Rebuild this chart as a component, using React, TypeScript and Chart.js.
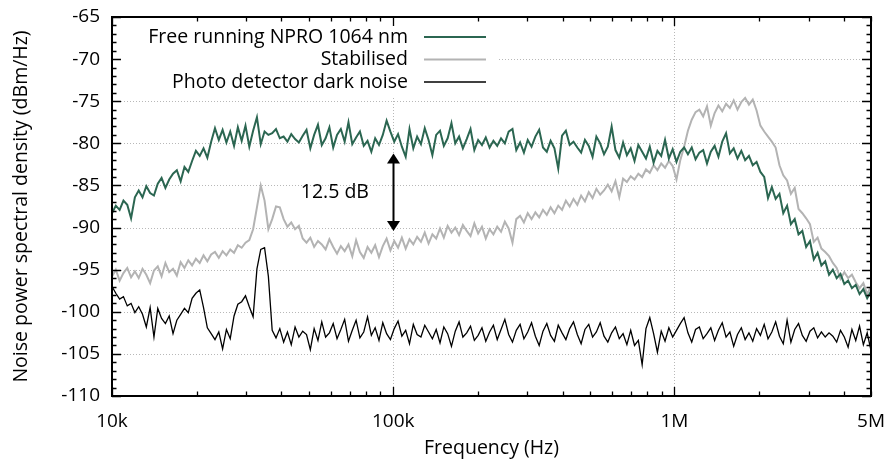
import React, { useEffect, useRef } from "react";
import { Chart, registerables } from "chart.js";
Chart.register(...registerables);

// Sweep configuration (log-spaced analyser sweep)
const FREQ_START = 1e4;
const FREQ_STOP = 5e6;

const FREE_RUNNING = [
  -88.3,-87.4,-87.9,-86.8,-87.3,-88.9,-86.4,-85.6,-86.4,-85.1,-85.9,
  -86.2,-84.8,-84.1,-85.3,-84.3,-83.6,-83.2,-84.5,-82.8,-83.4,
  -82.1,-80.9,-81.5,-80.6,-81.7,-79.8,-78.2,-79.6,-78.4,-79.9,
  -78.6,-80.3,-78.1,-79.7,-77.9,-80.4,-78.5,-76.9,-80.1,-78.6,
  -79.0,-78.8,-78.3,-79.4,-79.2,-79.8,-78.9,-79.5,-79.9,-79.1,
  -78.4,-80.6,-79.0,-77.8,-80.2,-79.4,-78.1,-80.5,-79.0,-78.3,
  -79.8,-77.5,-80.1,-79.3,-78.6,-80.3,-79.7,-81.0,-79.4,-80.2,
  -79.0,-77.3,-78.6,-79.8,-78.9,-80.4,-81.6,-78.3,-80.6,-79.2,
  -80.1,-78.2,-79.6,-81.4,-79.0,-78.5,-80.3,-79.4,-77.6,-80.0,
  -79.2,-80.6,-79.5,-78.3,-80.8,-79.6,-80.2,-79.3,-80.5,-79.7,
  -80.3,-79.4,-80.0,-78.6,-78.3,-80.8,-79.9,-81.1,-79.6,-80.4,
  -79.2,-78.4,-80.5,-81.0,-79.7,-80.6,-83.0,-79.1,-78.5,-80.2,
  -79.8,-80.5,-81.1,-79.6,-80.3,-81.6,-79.2,-80.0,-81.3,-80.4,
  -78.0,-80.8,-81.7,-79.9,-81.4,-80.6,-82.1,-80.2,-81.0,-81.8,
  -80.4,-82.3,-80.9,-81.5,-79.6,-81.8,-80.7,-82.2,-81.0,-80.5,
  -81.3,-80.5,-81.9,-81.1,-80.8,-82.4,-81.0,-80.3,-81.6,-79.8,
  -78.8,-81.2,-80.6,-81.8,-80.9,-82.0,-81.5,-82.6,-82.2,-83.4,
  -84.0,-86.5,-85.2,-86.6,-86.0,-88.3,-87.4,-89.6,-89.0,-90.8,
  -90.4,-92.3,-91.6,-93.8,-93.0,-94.5,-94.0,-95.6,-95.0,-96.0,
  -95.5,-96.7,-96.3,-97.2,-96.8,-97.9,-97.3,-98.4,-97.6
];

const STABILISED = [
  -95.8,-95.0,-96.3,-95.4,-94.8,-95.9,-95.2,-96.0,-94.9,-95.6,-96.6,
  -95.1,-94.6,-95.8,-94.2,-95.3,-94.9,-95.7,-94.1,-94.8,-93.9,
  -94.5,-93.7,-94.2,-93.3,-94.0,-93.2,-92.9,-93.6,-92.8,-93.3,
  -92.6,-93.0,-92.1,-92.4,-91.8,-91.5,-90.2,-87.6,-85.0,-86.8,
  -90.2,-89.0,-87.5,-87.6,-89.0,-89.9,-89.4,-90.2,-89.8,-91.3,
  -91.8,-91.2,-92.3,-91.6,-92.0,-92.6,-91.4,-92.3,-93.1,-92.2,
  -92.8,-92.0,-93.4,-91.5,-92.9,-93.6,-92.3,-93.0,-92.1,-93.5,
  -92.2,-91.3,-92.7,-91.6,-92.4,-91.2,-92.5,-91.4,-92.0,-91.1,
  -91.7,-90.6,-91.9,-90.8,-91.3,-90.1,-91.2,-89.8,-90.6,-90.0,
  -90.9,-89.7,-90.4,-91.0,-89.5,-90.7,-89.9,-91.3,-90.2,-90.8,
  -89.9,-90.5,-89.3,-90.1,-91.8,-89.0,-88.6,-89.4,-88.3,-89.0,
  -88.2,-88.8,-87.9,-88.5,-87.6,-88.3,-87.4,-87.9,-86.8,-87.5,
  -86.6,-87.3,-86.2,-86.9,-85.8,-86.5,-85.4,-86.1,-85.6,-84.9,
  -85.7,-84.5,-86.4,-84.2,-84.6,-83.9,-84.3,-83.6,-84.0,-83.1,
  -83.5,-82.6,-83.2,-82.4,-82.9,-82.1,-82.7,-84.3,-82.0,-80.4,
  -78.5,-77.2,-76.3,-76.0,-76.8,-75.6,-77.9,-76.4,-75.5,-76.2,
  -75.3,-75.8,-74.9,-76.0,-75.1,-74.6,-75.4,-74.8,-76.1,-77.9,
  -78.6,-79.2,-79.8,-80.5,-82.6,-83.8,-84.4,-86.0,-85.3,-87.8,
  -88.3,-88.9,-89.6,-91.7,-91.2,-92.5,-92.9,-93.4,-94.2,-94.8,
  -96.1,-95.3,-96.0,-95.6,-96.5,-97.2,-96.6,-97.9,-97.0
];

const DARK_NOISE = [
  -97.0,-97.8,-98.5,-98.2,-99.3,-99.0,-100.1,-99.4,-100.3,-101.8,-99.5,
  -103.0,-99.6,-100.8,-101.4,-100.5,-102.6,-101.0,-100.3,-99.6,-100.1,
  -98.4,-97.8,-97.4,-99.5,-101.9,-102.6,-103.3,-102.4,-104.4,-102.1,
  -103.2,-100.5,-99.1,-98.8,-98.1,-99.4,-100.6,-94.9,-92.6,-92.4,
  -95.8,-102.2,-103.1,-102.0,-103.6,-102.4,-103.9,-101.8,-103.0,-102.3,
  -102.7,-104.5,-102.0,-103.4,-101.2,-103.0,-102.5,-101.4,-103.2,-102.1,
  -100.9,-103.5,-102.2,-101.0,-103.1,-102.4,-100.6,-102.8,-101.9,-103.4,
  -101.3,-102.6,-103.3,-102.0,-101.1,-102.9,-102.2,-103.8,-101.5,-102.7,
  -103.0,-101.6,-102.4,-103.2,-102.1,-103.7,-101.8,-102.6,-104.1,-102.3,
  -101.2,-103.0,-102.5,-101.7,-103.4,-102.8,-101.9,-103.5,-102.4,-101.6,
  -103.3,-102.1,-100.9,-102.7,-103.6,-102.2,-101.5,-103.2,-102.4,-101.3,
  -102.9,-104.0,-102.3,-101.4,-102.8,-103.5,-101.6,-102.5,-103.3,-102.0,
  -101.2,-102.7,-103.8,-102.1,-101.5,-103.0,-102.4,-101.3,-102.9,-103.6,
  -102.5,-101.8,-103.2,-102.6,-103.9,-102.2,-104.0,-103.4,-106.3,-102.0,
  -100.7,-102.6,-104.8,-102.3,-103.5,-101.9,-103.0,-102.2,-101.4,-100.7,
  -102.5,-103.6,-102.1,-101.8,-103.2,-102.6,-101.9,-103.4,-102.2,-101.3,
  -103.0,-102.4,-104.1,-102.7,-101.9,-103.3,-102.5,-103.5,-102.0,-102.8,
  -101.5,-103.2,-102.4,-101.2,-102.9,-103.8,-101.0,-103.6,-102.1,-101.4,
  -102.8,-103.5,-102.3,-101.9,-103.1,-102.4,-103.0,-102.5,-102.9,-103.6,
  -102.2,-103.0,-104.2,-102.1,-103.4,-101.7,-103.9,-102.5,-104.6
];

const SERIES_LABELS = ["Free running NPRO 1064 nm", "Stabilised", "Photo detector dark noise"];
const SERIES_COLORS = ["#2b6651", "#b3b3b3", "#000000"];
const SERIES_WIDTHS = [2, 2, 1.3];

const X_TICKS = [1e4, 1e5, 1e6, 5e6];
const X_TICK_LABELS = ["10k", "100k", "1M", "5M"];
const X_GRID = [1e5, 1e6];
const Y_MIN = -110;
const Y_MAX = -65;
const Y_STEP = 5;

const ARROW = { freq: 1e5, from: -81.2, to: -90.4 };
const ARROW_LABEL = { text: "12.5 dB", freq: 6.2e4, value: -85.8 };

const FONT = "'Open Sans', 'DejaVu Sans', sans-serif";

function sweep(n: number): number[] {
  const out: number[] = [];
  for (let i = 0; i < n; i++) {
    out.push(FREQ_START * Math.pow(FREQ_STOP / FREQ_START, i / (n - 1)));
  }
  return out;
}

function toPoints(values: number[]) {
  const f = sweep(values.length);
  return values.map((v, i) => ({ x: f[i], y: v }));
}

function zeroPad(s: any) {
  s.paddingLeft = 0;
  s.paddingRight = 0;
  s.paddingTop = 0;
  s.paddingBottom = 0;
}

const decorPlugin = {
  id: "decor",
  beforeDatasetsDraw(chart: any) {
    const { ctx, chartArea } = chart;
    const { left, right, top, bottom } = chartArea;
    const x = chart.scales.x;
    const y = chart.scales.y;
    ctx.save();
    ctx.strokeStyle = "#b8b8b8";
    ctx.lineWidth = 1;
    ctx.setLineDash([1, 2]);
    for (let v = Y_MIN + Y_STEP; v < Y_MAX; v += Y_STEP) {
      const py = Math.round(y.getPixelForValue(v)) + 0.5;
      ctx.beginPath();
      ctx.moveTo(left, py);
      ctx.lineTo(right, py);
      ctx.stroke();
    }
    for (const f of X_GRID) {
      const px = Math.round(x.getPixelForValue(f)) + 0.5;
      ctx.beginPath();
      ctx.moveTo(px, top);
      ctx.lineTo(px, bottom);
      ctx.stroke();
    }
    ctx.restore();
  },
  afterDatasetsDraw(chart: any) {
    const { ctx, chartArea } = chart;
    const { left, right, top, bottom } = chartArea;
    const x = chart.scales.x;
    const y = chart.scales.y;
    ctx.save();

    // legend
    ctx.fillStyle = "#ffffff";
    ctx.fillRect(left + 1, top + 1, 385, 78);
    ctx.font = `19.5px ${FONT}`;
    ctx.textAlign = "right";
    ctx.textBaseline = "middle";
    chart.data.datasets.forEach((ds: any, i: number) => {
      const ry = top + 20 + i * 22.5;
      ctx.fillStyle = "#000";
      ctx.fillText(ds.label, left + 296, ry);
      ctx.strokeStyle = ds.borderColor;
      ctx.lineWidth = i === 2 ? 1.5 : 2;
      ctx.beginPath();
      ctx.moveTo(left + 312, ry);
      ctx.lineTo(left + 374, ry);
      ctx.stroke();
    });

    // frame
    ctx.strokeStyle = "#000";
    ctx.lineWidth = 2;
    ctx.strokeRect(Math.round(left), Math.round(top), Math.round(right - left), Math.round(bottom - top));

    // ticks (inside)
    ctx.lineWidth = 1.3;
    for (let v = Y_MIN; v <= Y_MAX; v += 1) {
      const py = Math.round(y.getPixelForValue(v)) + 0.5;
      const len = (v - Y_MIN) % Y_STEP === 0 ? 9 : 4.5;
      ctx.beginPath();
      ctx.moveTo(left, py);
      ctx.lineTo(left + len, py);
      ctx.moveTo(right, py);
      ctx.lineTo(right - len, py);
      ctx.stroke();
    }
    for (let d = FREQ_START; d < FREQ_STOP; d *= 10) {
      for (let k = 1; k <= 9; k++) {
        const f = d * k;
        if (f > FREQ_STOP) break;
        const px = Math.round(x.getPixelForValue(f)) + 0.5;
        const len = k === 1 ? 9 : 4.5;
        ctx.beginPath();
        ctx.moveTo(px, bottom);
        ctx.lineTo(px, bottom - len);
        ctx.moveTo(px, top);
        ctx.lineTo(px, top + len);
        ctx.stroke();
      }
    }

    // arrow annotation
    const ax = Math.round(x.getPixelForValue(ARROW.freq)) + 0.5;
    const ay1 = y.getPixelForValue(ARROW.from);
    const ay2 = y.getPixelForValue(ARROW.to);
    ctx.lineWidth = 2;
    ctx.beginPath();
    ctx.moveTo(ax, ay1 + 8);
    ctx.lineTo(ax, ay2 - 8);
    ctx.stroke();
    ctx.fillStyle = "#000";
    ctx.beginPath();
    ctx.moveTo(ax, ay1);
    ctx.lineTo(ax - 6.5, ay1 + 10);
    ctx.lineTo(ax + 6.5, ay1 + 10);
    ctx.closePath();
    ctx.fill();
    ctx.beginPath();
    ctx.moveTo(ax, ay2);
    ctx.lineTo(ax - 6.5, ay2 - 10);
    ctx.lineTo(ax + 6.5, ay2 - 10);
    ctx.closePath();
    ctx.fill();
    ctx.textAlign = "center";
    ctx.textBaseline = "middle";
    ctx.font = `19.5px ${FONT}`;
    ctx.fillText(ARROW_LABEL.text, x.getPixelForValue(ARROW_LABEL.freq), y.getPixelForValue(ARROW_LABEL.value));

    ctx.restore();
  },
};

export default function App() {
  const ref = useRef<HTMLCanvasElement | null>(null);
  useEffect(() => {
    document.body.style.margin = "0";
    const canvas = ref.current;
    if (!canvas) return;
    const series = [FREE_RUNNING, STABILISED, DARK_NOISE];
    const chart = new Chart(canvas, {
      type: "line",
      data: {
        datasets: series.map((vals, i) => ({
          label: SERIES_LABELS[i],
          data: toPoints(vals),
          borderColor: SERIES_COLORS[i],
          backgroundColor: SERIES_COLORS[i],
          borderWidth: SERIES_WIDTHS[i],
          pointRadius: 0,
          tension: 0,
          fill: false,
        })),
      },
      options: {
        responsive: false,
        animation: false,
        devicePixelRatio: 1,
        layout: { padding: { top: 17, right: 16, left: 0, bottom: 0 } },
        plugins: { legend: { display: false }, tooltip: { enabled: false } },
        scales: {
          x: {
            type: "logarithmic",
            min: FREQ_START,
            max: FREQ_STOP,
            afterBuildTicks: (s: any) => {
              s.ticks = X_TICKS.map((v) => ({ value: v }));
            },
            afterFit: (s: any) => {
              s.height = 70;
              zeroPad(s);
            },
            grid: { display: false, drawTicks: false, tickLength: 0 },
            border: { display: false },
            ticks: {
              autoSkip: false,
              maxRotation: 0,
              minRotation: 0,
              padding: 14,
              color: "#000",
              font: { family: FONT, size: 19 },
              callback: (_v: any, i: number) => X_TICK_LABELS[i],
            },
            title: {
              display: true,
              text: "Frequency (Hz)",
              color: "#000",
              font: { family: FONT, size: 19.5 },
              padding: { top: 0, bottom: 6 },
            },
          },
          y: {
            min: Y_MIN,
            max: Y_MAX,
            afterFit: (s: any) => {
              s.width = 112;
              zeroPad(s);
            },
            grid: { display: false, drawTicks: false, tickLength: 0 },
            border: { display: false },
            ticks: {
              stepSize: Y_STEP,
              padding: 12,
              color: "#000",
              font: { family: FONT, size: 19 },
            },
            title: {
              display: true,
              text: "Noise power spectral density (dBm/Hz)",
              color: "#000",
              font: { family: FONT, size: 19.5 },
              padding: { top: 10, bottom: 0 },
            },
          },
        },
      },
      plugins: [decorPlugin],
    } as any);
    return () => chart.destroy();
  }, []);
  return (
    <div style={{ width: 887, height: 466 }}>
      <canvas ref={ref} width={887} height={466} style={{ width: 887, height: 466, display: "block" }} />
    </div>
  );
}
